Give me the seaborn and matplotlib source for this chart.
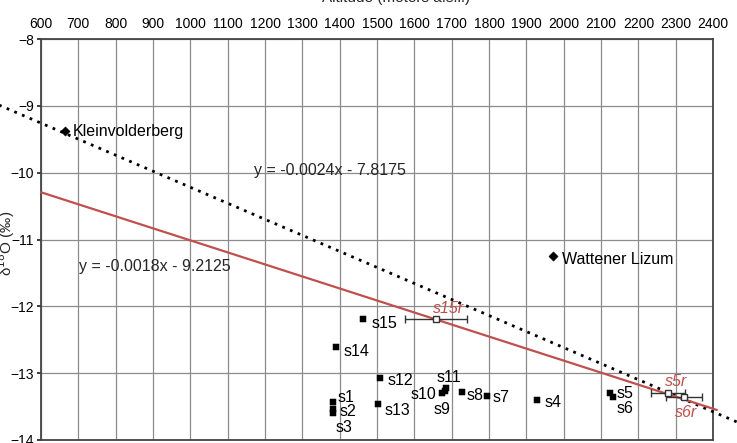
import numpy as np
import pandas as pd
import matplotlib
matplotlib.use("Agg")
import matplotlib.pyplot as plt
import seaborn as sns

# spring samples: altitude (m a.s.l.) and delta18O (permil)
spring_names = ['s1', 's2', 's3', 's4', 's5', 's6', 's7', 's8',
                's9', 's10', 's11', 's12', 's13', 's14', 's15']
spring_alt = [1382, 1382, 1382, 1929, 2124, 2132, 1795, 1728,
              1681, 1675, 1684, 1508, 1503, 1390, 1463]
spring_d18o = [-13.43, -13.54, -13.60, -13.40, -13.30, -13.36, -13.34, -13.28,
               -13.27, -13.30, -13.22, -13.07, -13.46, -12.61, -12.19]

# precipitation stations
station_names = ['Kleinvolderberg', 'Wattener Lizum']
station_alt = [664, 1971]
station_d18o = [-9.38, -11.25]

# recharge altitudes (with altitude range)
recharge_names = ['s15r', 's5r', 's6r']
recharge_alt = [1658, 2280, 2322]
recharge_d18o = [-12.19, -13.30, -13.36]
recharge_err = [82, 46, 47]

# regression lines (slope, intercept)
station_fit = (-0.0024, -7.8175)
recharge_fit = (-0.0018, -9.2125)

# label offsets in pixels (dx, dy, ha)
spring_offsets = [(5, 4, 'left'), (7, -2, 'left'), (3, -14, 'left'), (7, -3, 'left'),
                  (7, 0, 'left'), (4, -11, 'left'), (5, -2, 'left'), (4, -4, 'left'),
                  (-11, -18, 'left'), (-6, -1, 'right'), (-9, 10, 'left'), (8, -3, 'left'),
                  (6, -7, 'left'), (8, -4, 'left'), (8, -4, 'left')]
station_offsets = [(8, 0), (9, -3)]
recharge_offsets = [(-3, 11), (-3, 12), (-9, -15)]

red = '#c0504d'
font = 'Liberation Sans'

sns.set_theme(style='white')
plt.rcParams['font.family'] = [font, 'DejaVu Sans']

fig = plt.figure(figsize=(7.37, 4.43), dpi=100)
ax = fig.add_axes([0.0556, 0.0068, 0.912, 0.905])

# trend lines
xs_st = np.array([480, 2480])
ax.plot(xs_st, station_fit[0] * xs_st + station_fit[1], color='black',
        lw=2, ls=(0, (1, 2)), clip_on=False, zorder=3)
xs_re = np.array([600, 2410])
ax.plot(xs_re, recharge_fit[0] * xs_re + recharge_fit[1], color=red,
        lw=1.6, clip_on=False, zorder=3)

springs = pd.DataFrame({'alt': spring_alt, 'd18o': spring_d18o})
sns.scatterplot(data=springs, x='alt', y='d18o', marker='s', s=20,
                color='black', edgecolor='black', ax=ax, zorder=4)

stations = pd.DataFrame({'alt': station_alt, 'd18o': station_d18o})
sns.scatterplot(data=stations, x='alt', y='d18o', marker='D', s=22,
                color='black', edgecolor='black', ax=ax, zorder=4)

ax.errorbar(recharge_alt, recharge_d18o, xerr=recharge_err, fmt='s',
            ms=4, mfc='white', mec='#333333', ecolor='#333333',
            elinewidth=1, capsize=3, zorder=5)

for name, x, y, (dx, dy, ha) in zip(spring_names, spring_alt, spring_d18o, spring_offsets):
    ax.annotate(name, (x, y), xytext=(dx, dy), textcoords='offset pixels',
                ha=ha, va='center', fontsize=11.5, color='black')
for name, x, y, (dx, dy) in zip(station_names, station_alt, station_d18o, station_offsets):
    ax.annotate(name, (x, y), xytext=(dx, dy), textcoords='offset pixels',
                ha='left', va='center', fontsize=11.5, color='black')
for name, x, y, (dx, dy) in zip(recharge_names, recharge_alt, recharge_d18o, recharge_offsets):
    ax.annotate(name, (x, y), xytext=(dx, dy), textcoords='offset pixels',
                ha='left', va='center', fontsize=11.5, color=red, style='italic')

ax.text(1374, -9.96, 'y = -0.0024x - 7.8175', ha='center', va='center', fontsize=11.5)
ax.text(905, -11.40, 'y = -0.0018x - 9.2125', ha='center', va='center', fontsize=11.5)

ax.set_xlim(600, 2400)
ax.set_ylim(-14, -8)
ax.set_xticks(np.arange(600, 2401, 100))
ax.set_yticks(np.arange(-14, -7.9, 1))
ax.xaxis.tick_top()
ax.xaxis.set_label_position('top')
ax.tick_params(axis='x', length=0, pad=6, labelsize=10, labelcolor='black')
ax.tick_params(axis='y', length=3, left=True, pad=2, labelsize=10, labelcolor='black')
ax.grid(True, color='#8c8c8c', lw=0.9)
for sp in ax.spines.values():
    sp.set_color('#444444')
    sp.set_linewidth(1.3)

ax.set_xlabel('Altitude (meters a.s.l.)', fontsize=11)
ax.xaxis.set_label_coords(0.528, 1.085)
ax.xaxis.label.set_va('bottom')
ax.set_ylabel('δ$^{18}$O (‰)', fontsize=11)
ax.yaxis.set_label_coords(-0.052, 0.49)
ax.yaxis.label.set_va('center')

fig.savefig('out.png', dpi=100)
